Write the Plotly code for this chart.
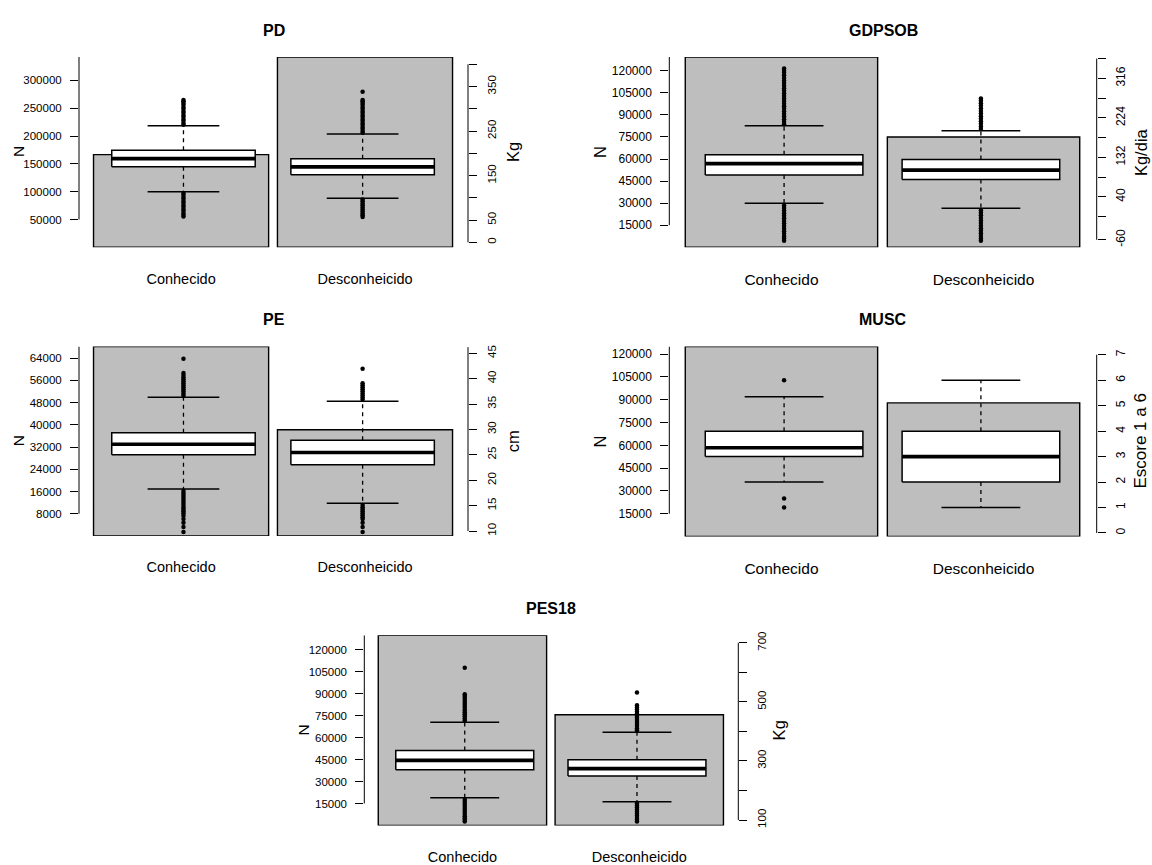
import plotly.graph_objects as go

W, H = 1152, 865
groups = ["Conhecido", "Desconheicido"]

# ---------------- data ----------------
# PD
pd_n = [166600, 342300]
pd_q1 = [169.5, 151.7]
pd_med = [188.0, 169.5]
pd_q3 = [206.8, 188.0]
pd_lo = [113.8, 98.8]
pd_hi = [261.7, 243.1]
pd_out_hi = [[264, 268, 273, 277, 282, 286, 291, 295, 300, 304, 309, 313, 317, 320],
             [246, 250, 255, 259, 264, 268, 273, 277, 282, 286, 291, 295, 300, 304, 309, 313, 317, 320, 338]]
pd_out_lo = [[111, 107, 102, 98, 93, 89, 84, 80, 75, 71, 66, 62, 58],
             [96, 92, 87, 83, 78, 74, 69, 65, 61, 57]]
pd_ticks_n = [50000, 100000, 150000, 200000, 250000, 300000]
pd_ticks_r = [0, 50, 100, 150, 200, 250, 300, 350, 400]
pd_labels_r = ["0", "50", "", "150", "", "250", "", "350", ""]

# GDPSOB
gd_n = [129460, 74930]
gd_q1 = [90.7, 80.5]
gd_med = [117.5, 102.3]
gd_q3 = [138.3, 126.8]
gd_lo = [25.0, 13.4]
gd_hi = [205.4, 193.8]
gd_out_hi = [[209, 215, 221, 227, 233, 239, 245, 251, 257, 263, 269, 275, 281, 287, 293, 299, 305, 311, 317, 323, 329, 334, 339],
             [198, 204, 210, 216, 222, 228, 234, 240, 246, 252, 258, 264, 269]]
gd_out_lo = [[20, 14, 8, 2, -4, -10, -16, -22, -28, -34, -40, -46, -52, -57, -62],
             [9, 3, -3, -9, -15, -21, -27, -33, -39, -45, -51, -57, -62]]
gd_ticks_n = [15000, 30000, 45000, 60000, 75000, 90000, 105000, 120000]
gd_ticks_r = [-60, -6, 40, 86, 132, 178, 224, 270, 316, 362]
gd_labels_r = ["-60", "", "40", "", "132", "", "224", "", "316", ""]

# PE
pe_n = [68150, 38240]
pe_q1 = [25.0, 23.04]
pe_med = [27.09, 25.45]
pe_q3 = [29.36, 27.87]
pe_lo = [18.29, 15.48]
pe_hi = [36.34, 35.56]
pe_out_hi = [[36.7, 37.1, 37.5, 37.9, 38.3, 38.7, 39.1, 39.5, 39.9, 40.3, 40.7, 41.1, 43.9],
             [35.9, 36.3, 36.7, 37.1, 37.5, 37.9, 38.3, 38.7, 39.1, 41.95]]
pe_out_lo = [[17.9, 17.5, 17.1, 16.7, 16.3, 15.9, 15.5, 15.1, 14.7, 14.3, 13.9, 13.5, 13.0, 12.35, 11.65, 10.8, 9.8],
             [15.1, 14.7, 14.3, 13.9, 13.5, 13.1, 12.7, 12.35, 11.65, 10.8, 9.8]]
pe_ticks_n = [8000, 16000, 24000, 32000, 40000, 48000, 56000, 64000]
pe_ticks_r = [10, 15, 20, 25, 30, 35, 40, 45]
pe_labels_r = ["10", "15", "20", "25", "30", "35", "40", "45"]

# MUSC
mu_n = [125000, 87940]
mu_q1 = [3.0, 2.0]
mu_med = [3.35, 3.0]
mu_q3 = [4.0, 4.0]
mu_lo = [2.0, 1.0]
mu_hi = [5.35, 6.0]
mu_out_hi = [[6.0], []]
mu_out_lo = [[1.35, 1.0], []]
mu_ticks_n = [15000, 30000, 45000, 60000, 75000, 90000, 105000, 120000]
mu_ticks_r = [0, 1, 2, 3, 4, 5, 6, 7]
mu_labels_r = ["0", "1", "2", "3", "4", "5", "6", "7"]

# PES18
ps_n = [129740, 75540]
ps_q1 = [270.5, 249.3]
ps_med = [301.8, 274.0]
ps_q3 = [335.4, 304.0]
ps_lo = [175.3, 162.0]
ps_hi = [431.0, 397.3]
ps_out_hi = [[437, 444, 451, 458, 465, 472, 479, 486, 493, 500, 507, 514, 520, 526, 616],
             [404, 411, 418, 425, 432, 439, 446, 453, 460, 467, 474, 481, 489, 532]]
ps_out_lo = [[169, 162, 155, 148, 141, 134, 127, 120, 113, 106, 100, 95],
             [156, 149, 142, 135, 128, 121, 114, 107, 101, 95]]
ps_ticks_n = [15000, 30000, 45000, 60000, 75000, 90000, 105000, 120000]
ps_ticks_r = [100, 200, 300, 400, 500, 600, 700]
ps_labels_r = ["100", "", "300", "", "500", "", "700"]

# ---------------- layout geometry (pixels) ----------------
panels = [
    dict(title="PD", n=pd_n, q1=pd_q1, med=pd_med, q3=pd_q3, lo=pd_lo, hi=pd_hi,
         ohi=pd_out_hi, olo=pd_out_lo, tn=pd_ticks_n, tr=pd_ticks_r, lr=pd_labels_r,
         unit="Kg", px=(79, 468), py=(53.3, 245), yr=[-11.2, 416.5], rline=(0, 400),
         fs=11.5, fl=14.5, fu=16.5, nx=18, ux=513),
    dict(title="GDPSOB", n=gd_n, q1=gd_q1, med=gd_med, q3=gd_q3, lo=gd_lo, hi=gd_hi,
         ohi=gd_out_hi, olo=gd_out_lo, tn=gd_ticks_n, tr=gd_ticks_r, lr=gd_labels_r,
         unit="Kg/dia", px=(669.3, 1096.7), py=(53.3, 244.9), yr=[-77.2, 365.9], rline=(-60, 362),
         fs=12, fl=15.5, fu=16.5, nx=600, ux=1141),
    dict(title="PE", n=pe_n, q1=pe_q1, med=pe_med, q3=pe_q3, lo=pe_lo, hi=pe_hi,
         ohi=pe_out_hi, olo=pe_out_lo, tn=pe_ticks_n, tr=pe_ticks_r, lr=pe_labels_r,
         unit="cm", px=(79, 468), py=(345, 535.7), yr=[9.02, 46.31], rline=(10, 46.2),
         fs=11.5, fl=14.5, fu=16.5, nx=18, ux=513),
    dict(title="MUSC", n=mu_n, q1=mu_q1, med=mu_med, q3=mu_q3, lo=mu_lo, hi=mu_hi,
         ohi=mu_out_hi, olo=mu_out_lo, tn=mu_ticks_n, tr=mu_ticks_r, lr=mu_labels_r,
         unit="Escore 1 a 6", px=(669.3, 1096.7), py=(345, 536.2), yr=[-0.137, 7.32], rline=(0, 7),
         fs=12, fl=15.5, fu=17, nx=600, ux=1141),
    dict(title="PES18", n=ps_n, q1=ps_q1, med=ps_med, q3=ps_q3, lo=ps_lo, hi=ps_hi,
         ohi=ps_out_hi, olo=ps_out_lo, tn=ps_ticks_n, tr=ps_ticks_r, lr=ps_labels_r,
         unit="Kg", px=(364.3, 738.3), py=(635.7, 827.2), yr=[81.5, 725.6], rline=(100, 700),
         fs=11.5, fl=14.5, fu=16.5, nx=303, ux=779),
]

FONT = "Liberation Sans, Arial, sans-serif"
BAR_W = 0.952
BOX_W = 0.78
STAPLE_W = 0.39
BOX_X = [1.013, 1.987]
XR = [0.445, 2.56]

fig = go.Figure()
layout = dict(width=W, height=H, margin=dict(l=0, r=0, t=0, b=0),
              paper_bgcolor="white", plot_bgcolor="white", showlegend=False,
              font=dict(family=FONT, color="black"))
shapes = []
annotations = []


def xp(v):
    return v / W


def yp(v):
    return 1 - v / H


for i, p in enumerate(panels, start=1):
    xa = "x" if i == 1 else f"x{i}"
    yl_i = 2 * i - 1
    yr_i = 2 * i
    yl = "y" if yl_i == 1 else f"y{yl_i}"
    yr = f"y{yr_i}"
    xkey = "xaxis" if i == 1 else f"xaxis{i}"
    ylkey = "yaxis" if yl_i == 1 else f"yaxis{yl_i}"
    yrkey = f"yaxis{yr_i}"

    xdom = [xp(p["px"][0]), xp(p["px"][1])]
    ydom = [yp(p["py"][1]), yp(p["py"][0])]
    ymax = max(p["n"])

    # bars (counts)
    fig.add_trace(go.Bar(x=[1, 2], y=p["n"], width=BAR_W, xaxis=xa, yaxis=yl,
                         marker=dict(color="#BEBEBE", line=dict(color="black", width=1.4)),
                         hoverinfo="skip"))

    # box plots on right axis
    wx, wy, bx, by, mx, my, sx, sy, ox, oy = [], [], [], [], [], [], [], [], [], []
    for k in range(2):
        c = BOX_X[k]
        q1, q3, md, lo, hi = p["q1"][k], p["q3"][k], p["med"][k], p["lo"][k], p["hi"][k]
        wx += [c, c, None, c, c, None]
        wy += [q3, hi, None, q1, lo, None]
        bx += [c - BOX_W / 2, c + BOX_W / 2, c + BOX_W / 2, c - BOX_W / 2, c - BOX_W / 2, None]
        by += [q1, q1, q3, q3, q1, None]
        mx += [c - BOX_W / 2, c + BOX_W / 2, None]
        my += [md, md, None]
        sx += [c - STAPLE_W / 2, c + STAPLE_W / 2, None, c - STAPLE_W / 2, c + STAPLE_W / 2, None]
        sy += [hi, hi, None, lo, lo, None]
        outs = p["ohi"][k] + p["olo"][k]
        ox += [c] * len(outs)
        oy += outs

    fig.add_trace(go.Scatter(x=wx, y=wy, mode="lines", xaxis=xa, yaxis=yr,
                             line=dict(color="black", width=1.3, dash="4px,4px"), hoverinfo="skip"))
    fig.add_trace(go.Scatter(x=bx, y=by, mode="lines", fill="toself", fillcolor="white",
                             xaxis=xa, yaxis=yr, line=dict(color="black", width=1.5), hoverinfo="skip"))
    fig.add_trace(go.Scatter(x=mx, y=my, mode="lines", xaxis=xa, yaxis=yr,
                             line=dict(color="black", width=3.6), hoverinfo="skip"))
    fig.add_trace(go.Scatter(x=sx, y=sy, mode="lines", xaxis=xa, yaxis=yr,
                             line=dict(color="black", width=1.5), hoverinfo="skip"))
    fig.add_trace(go.Scatter(x=ox, y=oy, mode="markers", xaxis=xa, yaxis=yr,
                             marker=dict(color="black", size=4.5, line=dict(width=0)), hoverinfo="skip"))

    layout[xkey] = dict(domain=xdom, anchor=yl, range=XR, tickvals=[1, 2], ticktext=groups,
                        showgrid=False, zeroline=False, showline=False, ticks="",
                        ticklabelstandoff=21, tickfont=dict(size=p["fl"], family=FONT))
    layout[ylkey] = dict(domain=ydom, anchor=xa, range=[0, ymax], tickvals=p["tn"],
                         ticktext=[str(v) for v in p["tn"]], showgrid=False, zeroline=False,
                         showline=False, ticks="outside", ticklen=8, tickwidth=1, tickcolor="black",
                         ticklabelstandoff=6, tickfont=dict(size=p["fs"], family=FONT))
    layout[yrkey] = dict(domain=ydom, anchor=xa, overlaying=yl, side="right", range=p["yr"],
                         tickvals=p["tr"], ticktext=p["lr"], tickangle=-90, showgrid=False,
                         zeroline=False, showline=False, ticks="outside", ticklen=8, tickwidth=1,
                         tickcolor="black", ticklabelstandoff=5, tickfont=dict(size=p["fs"], family=FONT))

    # axis lines
    shapes.append(dict(type="line", xref=f"{xa} domain", yref=yl, x0=0, x1=0,
                       y0=p["tn"][0], y1=ymax, line=dict(color="black", width=1)))
    shapes.append(dict(type="line", xref=f"{xa} domain", yref=yr, x0=1, x1=1,
                       y0=p["rline"][0], y1=p["rline"][1], line=dict(color="black", width=1)))

    # titles
    cy = (p["py"][0] + p["py"][1]) / 2
    annotations.append(dict(text=f"<b>{p['title']}</b>", xref="paper", yref="paper",
                            x=xp((p["px"][0] + p["px"][1]) / 2), y=yp(p["py"][0] - 27),
                            showarrow=False, font=dict(size=16, family=FONT),
                            xanchor="center", yanchor="middle"))
    annotations.append(dict(text="N", xref="paper", yref="paper", x=xp(p["nx"]), y=yp(cy),
                            showarrow=False, textangle=-90, font=dict(size=p["fl"] + 1, family=FONT),
                            xanchor="center", yanchor="middle"))
    annotations.append(dict(text=p["unit"], xref="paper", yref="paper", x=xp(p["ux"]), y=yp(cy),
                            showarrow=False, textangle=-90, font=dict(size=p["fu"], family=FONT),
                            xanchor="center", yanchor="middle"))

layout["shapes"] = shapes
layout["annotations"] = annotations
fig.update_layout(**layout)
fig.write_html("out.html")
